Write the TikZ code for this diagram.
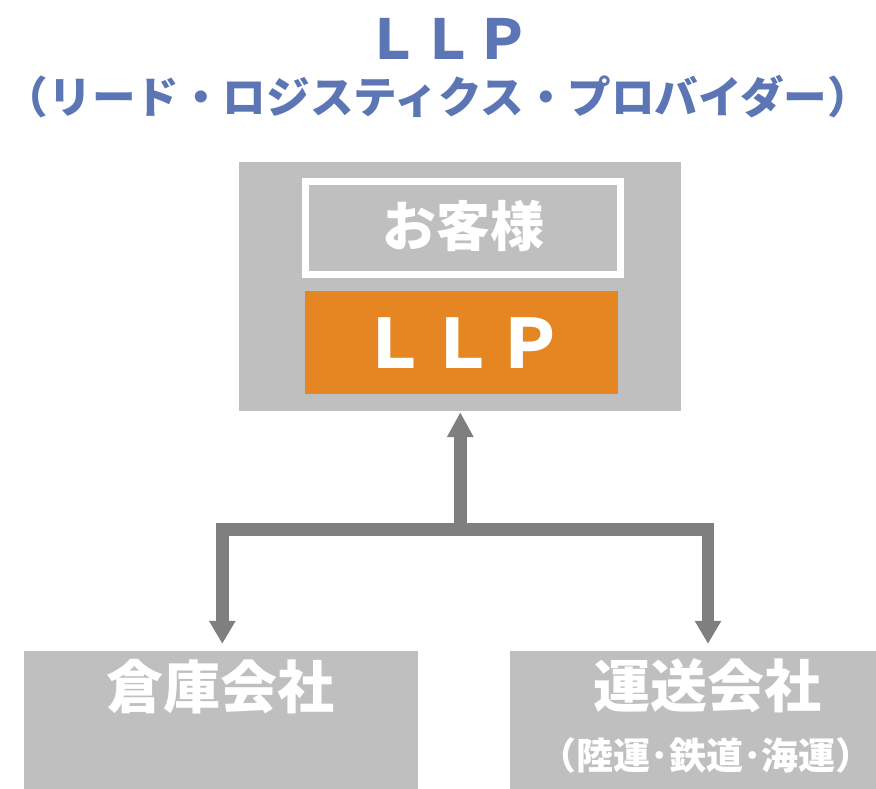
\documentclass[tikz,border=0pt]{standalone}
\usepackage{fontspec}
\setmainfont{Noto Sans CJK JP}
\usetikzlibrary{arrows.meta}
\definecolor{titleblue}{RGB}{91,117,181}
\definecolor{boxgray}{RGB}{191,191,191}
\definecolor{arrgray}{RGB}{127,127,127}
\definecolor{llporange}{RGB}{229,134,35}
\tikzset{
  graybox/.style={fill=boxgray, draw=none, inner sep=0pt},
  conn/.style={draw=arrgray, line width=12.7pt, line join=miter},
  tipup/.style={-{Triangle[width=25pt,length=25pt]}},
  wtext/.style={text=white, font=\bfseries, inner sep=0pt},
}
\begin{document}
\begin{tikzpicture}[x=1pt,y=-1pt]
\useasboundingbox (0,0) rectangle (876,789);
% titles
\node[text=titleblue, font=\bfseries\fontsize{55}{55}\selectfont, inner sep=0pt] (t1) at (448,38.5) {ＬＬＰ};
\node[text=titleblue, font=\bfseries\fontsize{43.6}{43.6}\selectfont, inner sep=0pt] (t2) at (438,97) {（リード・ロジスティクス・プロバイダー）};
% top box
\path[graybox] (239,162) rectangle (681,411);
\node[minimum width=442pt, minimum height=249pt, inner sep=0pt] (top) at (460,286.5) {};
\path[draw=white, line width=7pt, fill=boxgray] (305.5,182) rectangle (620.5,274.5);
\node[wtext, font=\bfseries\fontsize{54}{54}\selectfont] (cust) at (463,226) {お客様};
\path[fill=llporange] (305,291) rectangle (618,394);
\node[wtext, font=\bfseries\fontsize{68}{68}\selectfont] (llp) at (462,343) {ＬＬＰ};
% bottom boxes
\path[graybox] (24,651) rectangle (418,789);
\node[minimum width=394pt, minimum height=138pt, inner sep=0pt] (wh) at (221,720) {};
\path[graybox] (510,651) rectangle (876,789);
\node[minimum width=366pt, minimum height=138pt, inner sep=0pt] (tr) at (693,720) {};
\node[wtext, font=\bfseries\fontsize{57}{57}\selectfont] (whl) at (220,687) {倉庫会社};
\node[wtext, font=\bfseries\fontsize{57}{57}\selectfont] (trl) at (707,686) {運送会社};
\node[wtext, font=\bfseries\fontsize{37}{37}\selectfont] (trs) at (706,755) {（陸運･鉄道･海運）};
% connectors
\coordinate (j) at (460.3,529.3);
\draw[conn, tipup] ([yshift=6.35pt]j) -- ([yshift=-1pt]j |- top.south);
\draw[conn, {Triangle[width=25pt,length=23pt]}-{Triangle[width=25pt,length=23pt]}, shorten <=7pt, shorten >=7pt]
  (wh.north -| 222.3,0) |- (j) -| (tr.north -| 708,0);
\end{tikzpicture}
\end{document}
